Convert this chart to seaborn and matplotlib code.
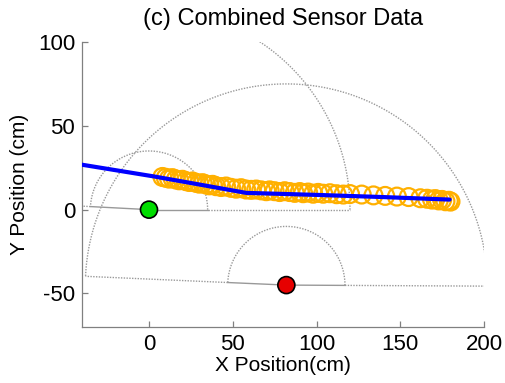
import numpy as np
import pandas as pd
import matplotlib
matplotlib.use("Agg")
import matplotlib.pyplot as plt
import seaborn as sns

# ---- data ----
track_x = [8, 10, 12, 14, 16, 18, 20, 22, 24, 26, 28, 30, 32, 34, 36, 38, 40, 43, 46, 49,
           52, 55, 58, 61, 64, 67, 70, 72, 75, 78, 81, 84, 87, 90, 92, 95, 98, 101, 104, 108,
           112, 116, 120, 127, 134, 141, 148, 155, 162, 166, 169, 171, 173, 175, 177, 179, 180]
track_y = [19.5, 19, 18.5, 18.8, 18, 17.5, 17.8, 17, 16.5, 16.8, 16, 15.5, 15.8, 15, 14.5, 14.8, 14, 13.5, 13.8, 13,
           12.5, 12.8, 12, 11.8, 12, 11.5, 11, 11.5, 11, 10.5, 11, 10.5, 10, 10.5, 9.8, 10.2, 9.5, 10, 9.5, 9.8,
           9.2, 9, 9.3, 9, 8.5, 8.2, 7.8, 7.5, 6.8, 6.5, 6, 6.3, 5.5, 5.8, 5, 5.3, 4.8]

fit_x = [-40, 3, 30, 58, 100, 140, 179.5]
fit_y = [26.8, 19.8, 15.0, 10.0, 8.8, 7.5, 6.0]

sensor_x = [0, 82]
sensor_y = [0, -45]
sensor_names = ["green", "red"]
sensor_colors = ["#00DD00", "#E60000"]
sensor_ang_lo = [0.0, -0.3]     # degrees, right FOV edge
sensor_ang_hi = [177.0, 177.5]  # degrees, left FOV edge
r_near = 35
r_far = 120

x_ticks = [0, 50, 100, 150, 200]
y_ticks = [-50, 0, 50, 100]

# ---- figure ----
sns.set_style("white")
plt.rcParams['font.family'] = ['Liberation Sans', 'DejaVu Sans']
plt.rcParams['axes.unicode_minus'] = False
plt.rcParams['text.color'] = 'black'
plt.rcParams['axes.labelcolor'] = 'black'
plt.rcParams['xtick.color'] = 'black'
plt.rcParams['ytick.color'] = 'black'

fig = plt.figure(figsize=(5.06, 3.83), dpi=100)
ax = fig.add_axes([82/506, 56/383, 402/506, 285/383])

gray = "#999999"
dot = (0, (1, 1))
for cx, cy, a0, a1 in zip(sensor_x, sensor_y, sensor_ang_lo, sensor_ang_hi):
    t = np.radians(np.linspace(a0, a1, 300))
    for r in (r_near, r_far):
        ax.plot(cx + r*np.cos(t), cy + r*np.sin(t), color=gray, lw=1.0, ls=dot, zorder=1)
    for a in (a0, a1):
        ca, sa = np.cos(np.radians(a)), np.sin(np.radians(a))
        ax.plot([cx, cx + r_near*ca], [cy, cy + r_near*sa], color=gray, lw=1.0, zorder=1)
        ax.plot([cx + r_near*ca, cx + r_far*ca], [cy + r_near*sa, cy + r_far*sa],
                color=gray, lw=1.0, ls=dot, zorder=1)

df_track = pd.DataFrame({"x": track_x, "y": track_y})
sns.scatterplot(data=df_track, x="x", y="y", ax=ax, marker="o", s=165,
                facecolors="none", edgecolor="#FFB000", linewidth=1.6, zorder=3)

df_fit = pd.DataFrame({"x": fit_x, "y": fit_y})
sns.lineplot(data=df_fit, x="x", y="y", ax=ax, color="#0000FF", lw=3.0, sort=False, zorder=4)

df_s = pd.DataFrame({"x": sensor_x, "y": sensor_y, "name": sensor_names})
sns.scatterplot(data=df_s, x="x", y="y", hue="name", palette=sensor_colors, ax=ax, s=150,
                edgecolor="black", linewidth=1.2, legend=False, zorder=5)

ax.set_xlim(-40, 200)
ax.set_ylim(-70, 100)
ax.set_xticks(x_ticks)
ax.set_yticks(y_ticks)
for s in ("top", "right"):
    ax.spines[s].set_visible(False)
for s in ("left", "bottom"):
    ax.spines[s].set_color("#808080")
    ax.spines[s].set_linewidth(0.9)
ax.tick_params(direction="in", length=4, width=0.9, color="#808080", labelsize=16,
               bottom=True, left=True, labelcolor="black")
ax.tick_params(axis="x", pad=5)
ax.tick_params(axis="y", pad=5)

ax.set_xlabel("X Position(cm)", fontsize=15, labelpad=1)
ax.set_ylabel("Y Position (cm)", fontsize=15, labelpad=6)
ax.set_title("(c) Combined Sensor Data", fontsize=17, pad=12)

fig.savefig("out.png", dpi=100)
